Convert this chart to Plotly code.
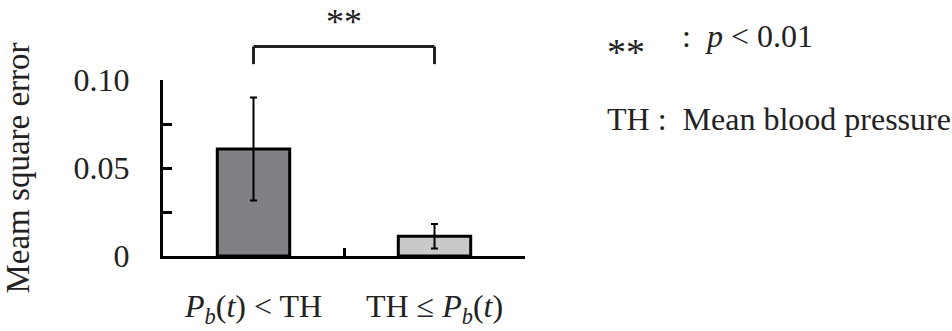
import plotly.graph_objects as go

# Mean square error for the two blood-pressure groups
categories = ["<i>P</i><sub><i>b</i></sub>(<i>t</i>) &lt; TH",
              "TH ≤ <i>P</i><sub><i>b</i></sub>(<i>t</i>)"]
mse_mean = [0.0608, 0.0112]
mse_err = [0.0292, 0.0070]
bar_colors = ["#808184", "#c8c9cb"]

y_tickvals = [0, 0.05, 0.10]
y_ticktext = ["0", "0.05", "0.10"]

FONT = "Liberation Serif, serif"
INK = "#222"

fig = go.Figure()
fig.add_trace(go.Bar(
    x=categories,
    y=mse_mean,
    width=0.40,
    marker=dict(color=bar_colors, line=dict(color="black", width=3)),
    error_y=dict(type="data", array=mse_err, visible=True,
                 color="black", thickness=2, width=3.5),
    showlegend=False,
))

# significance bracket between the two bars
for x0, x1, y0, y1 in [(0, 0, 1.09, 1.19), (1, 1, 1.09, 1.19), (0, 1, 1.19, 1.19)]:
    fig.add_shape(type="line", xref="x", yref="paper",
                  x0=x0, x1=x1, y0=y0, y1=y1,
                  line=dict(color=INK, width=3))
fig.add_annotation(x=0.5, xref="x", y=1.452, yref="paper",
                   xanchor="center", yanchor="top",
                   text="**", showarrow=False,
                   font=dict(family=FONT, size=36, color=INK))

# notes to the right of the plot
fig.add_annotation(x=1.222, xref="paper", y=1.16, yref="paper",
                   xanchor="left", yanchor="middle", showarrow=False,
                   text="**", font=dict(family=FONT, size=38, color=INK))
fig.add_annotation(x=1.428, xref="paper", y=1.25, yref="paper",
                   xanchor="left", yanchor="middle", showarrow=False,
                   text=":  <i>p</i> &lt; 0.01",
                   font=dict(family=FONT, size=32, color=INK))
fig.add_annotation(x=1.222, xref="paper", y=0.78, yref="paper",
                   xanchor="left", yanchor="middle", showarrow=False,
                   text="TH :  Mean blood pressure",
                   font=dict(family=FONT, size=32, color=INK))

fig.update_layout(
    width=952, height=331,
    margin=dict(l=163, r=427, t=80, b=75),
    paper_bgcolor="white", plot_bgcolor="white",
    font=dict(family=FONT, size=32, color=INK),
)
fig.update_xaxes(
    type="category", range=[-0.5, 1.5], automargin=False,
    tickson="boundaries", ticks="inside", ticklen=8, tickwidth=3,
    tickcolor="black", showline=True, linecolor="black", linewidth=3,
    showgrid=False, zeroline=False,
    tickfont=dict(family=FONT, size=32, color=INK),
    ticklabelstandoff=20,
)
fig.update_yaxes(
    range=[0, 0.10], tickvals=y_tickvals, ticktext=y_ticktext,
    automargin=False,
    ticks="inside", ticklen=9, tickwidth=3, tickcolor="black",
    minor=dict(dtick=0.025, ticks="inside", ticklen=9, tickwidth=3,
               tickcolor="black", showgrid=False),
    showline=True, linecolor="black", linewidth=3,
    showgrid=False, zeroline=False,
    tickfont=dict(family=FONT, size=32, color=INK),
    ticklabelstandoff=24,
    title=dict(text="Meam square error", standoff=38,
               font=dict(family=FONT, size=33, color=INK)),
)

fig.write_html("out.html")
